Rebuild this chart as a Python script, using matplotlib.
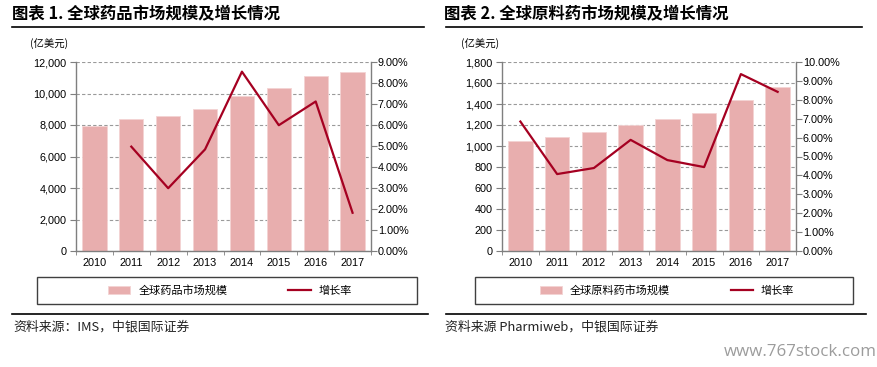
import numpy as np
import matplotlib
matplotlib.use("Agg")
import matplotlib.pyplot as plt
from matplotlib.lines import Line2D
from matplotlib.patches import Rectangle
from matplotlib.ticker import FuncFormatter, MultipleLocator

plt.rcParams['font.family'] = ['Liberation Sans', 'Noto Sans CJK SC', 'DejaVu Sans']
plt.rcParams['axes.unicode_minus'] = False

# Data
years = ['2010', '2011', '2012', '2013', '2014', '2015', '2016', '2017']
pharma_size = [7960, 8350, 8580, 9030, 9810, 10360, 11120, 11340]
pharma_growth = [np.nan, 4.97, 2.99, 4.84, 8.54, 5.99, 7.12, 1.82]
api_size = [1045, 1090, 1137, 1198, 1258, 1313, 1440, 1558]
api_growth = [6.85, 4.07, 4.39, 5.88, 4.81, 4.44, 9.36, 8.42]

W, H = 877, 367
BAR = '#E8AEAE'
LINE = '#A50021'
SPINE = '#7F7F7F'
CJK = ['Noto Sans CJK SC', 'DejaVu Sans']

fig = plt.figure(figsize=(W / 100, H / 100), dpi=100)


def fx(px):
    return px / W


def fy(py):
    return 1 - py / H


def draw_panel(x0, x1, sizes, growth, ymax, ystep, rmax,
               title, bar_label, source, title_x, line_x, box_x, unit_x):
    ax = fig.add_axes([fx(x0), fy(251), fx(x1 - x0), (251 - 62) / H])
    x = np.arange(len(years))
    bars = ax.bar(x, sizes, width=0.66, color=BAR, edgecolor='#F3D3D3',
                  linewidth=0.6, zorder=2, label=bar_label)
    ax.set_xlim(-0.5, len(years) - 0.5)
    ax.set_ylim(0, ymax)
    ax.yaxis.set_major_locator(MultipleLocator(ystep))
    ax.yaxis.set_major_formatter(FuncFormatter(lambda v, p: f'{v:,.0f}'))
    ax.grid(axis='y', color='#9A9A9A', linestyle=(0, (3, 2)), linewidth=0.8, zorder=0)
    ax.set_axisbelow(True)
    ax.set_xticks(x)
    ax.set_xticklabels(years)
    ax.set_xticks(np.arange(-0.5, len(years)), minor=True)
    ax.tick_params(axis='x', which='major', length=0, pad=5, labelsize=7.8)
    ax.tick_params(axis='x', which='minor', length=3, color=SPINE, direction='out')
    ax.tick_params(axis='y', length=4, color=SPINE, pad=3, labelsize=7.8)
    for s in ['top', 'right']:
        ax.spines[s].set_visible(False)
    for s in ['left', 'bottom']:
        ax.spines[s].set_color(SPINE)
        ax.spines[s].set_linewidth(1)

    ax2 = ax.twinx()
    ln, = ax2.plot(x, growth, color=LINE, linewidth=1.6, zorder=3, label='增长率')
    ax2.set_ylim(0, rmax)
    ax2.yaxis.set_major_locator(MultipleLocator(1))
    ax2.yaxis.set_major_formatter(FuncFormatter(lambda v, p: f'{v:.2f}%'))
    ax2.tick_params(axis='y', length=4, color=SPINE, pad=1, labelsize=7.8)
    for s in ['top', 'left', 'bottom']:
        ax2.spines[s].set_visible(False)
    ax2.spines['right'].set_color(SPINE)
    ax2.spines['right'].set_linewidth(1)

    # title and rules
    fig.text(fx(title_x), fy(14), title, family=CJK, weight='heavy',
             fontsize=11.8, va='center', ha='left')
    fig.add_artist(Line2D([fx(line_x[0]), fx(line_x[1])], [fy(27), fy(27)],
                          color='black', linewidth=1.2))
    fig.text(fx(unit_x), fy(44), '(亿美元)', family=CJK, fontsize=7.5,
             va='center', ha='left')

    # legend box
    fig.add_artist(Rectangle((fx(box_x[0]), fy(304)), fx(box_x[1] - box_x[0]),
                             27 / H, fill=False, edgecolor='#404040', linewidth=1))
    fig.legend(handles=[bars, ln], loc='center',
               bbox_to_anchor=(fx((box_x[0] + box_x[1]) / 2 + 3), fy(290.5)),
               ncol=2, frameon=False, prop={'family': CJK, 'size': 8},
               handlelength=2.0, handleheight=0.8, handletextpad=0.7,
               columnspacing=5.5)

    fig.add_artist(Line2D([fx(line_x[0]), fx(line_x[1] + 4)], [fy(314), fy(314)],
                          color='black', linewidth=1.2))
    fig.text(fx(title_x + 1), fy(327), source, family=CJK, fontsize=9.3,
             style='italic', va='center', ha='left', color='#222222')


draw_panel(76, 371, pharma_size, pharma_growth, 12000, 2000, 9,
           '图表 1. 全球药品市场规模及增长情况', '全球药品市场规模',
           '资料来源：IMS，中银国际证券', 12, (12, 424), (37, 417), 30)
draw_panel(502, 796, api_size, api_growth, 1800, 200, 10,
           '图表 2. 全球原料药市场规模及增长情况', '全球原料药市场规模',
           '资料来源 Pharmiweb，中银国际证券', 444, (446, 862), (475, 853), 461)

fig.text(fx(877), fy(352), 'www.767stock.com', family=['Open Sans', 'DejaVu Sans'],
         fontsize=12.2, color='#9C9C9C', ha='right', va='center')

fig.savefig('out.png', dpi=100)
